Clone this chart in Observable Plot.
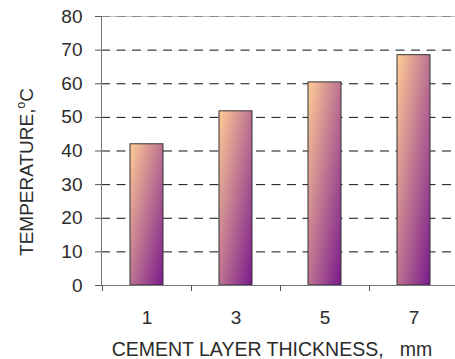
<!DOCTYPE html>
<html>
<head>
<meta charset="utf-8">
<script src="https://cdn.jsdelivr.net/npm/d3@7"></script>
<script src="https://cdn.jsdelivr.net/npm/@observablehq/plot@0.6"></script>
<style>
  html, body { margin: 0; padding: 0; background: #fff; }
  #chart svg { display: block; }
</style>
</head>
<body>
<div id="chart"></div>
<script>
// Cement layer thickness (mm) and the measured temperature (°C)
const thickness = ["1", "3", "5", "7"];
const temperature = [42, 51.8, 60.4, 68.5];
const yTicks = [0, 10, 20, 30, 40, 50, 60, 70, 80];

const xTitle = "CEMENT LAYER THICKNESS,\u00a0\u00a0 mm";
const yTitle = "TEMPERATURE,";
const yTitleSup = "o";
const yTitleUnit = "C";

const rows = thickness.map((t, i) => ({thickness: t, temperature: temperature[i]}));

const FONT = "'Liberation Sans', Arial, Helvetica, sans-serif";
const INK = "#2b2b2b";
const W = 455, H = 359;
const plotLeft = 101, plotTop = 16, plotBottom = 285;

const plot = Plot.plot({
  width: W,
  height: H,
  marginLeft: plotLeft,
  marginRight: 0,
  marginTop: plotTop,
  marginBottom: H - plotBottom,
  style: {fontFamily: FONT, fontSize: "19px", color: INK, background: "#fff", overflow: "visible"},
  x: {type: "band", domain: thickness, range: [plotLeft, 458], paddingInner: 0.63, paddingOuter: 0.315, label: null},
  y: {domain: [0, 80], label: null},
  marks: [
    Plot.gridY(yTicks.filter(v => v > 0 && v < 80), {stroke: "#111", strokeOpacity: 1, strokeDasharray: "9,6.5"}),
    Plot.ruleY([80], {stroke: "#c4c4c4"}),
    Plot.ruleY([80], {stroke: "#8a8a8a", strokeDasharray: "9,6.5"}),
    Plot.barY(rows, {x: "thickness", y: "temperature", fill: "url(#bar-fill)", stroke: "#333", strokeWidth: 1}),
    Plot.axisY({ticks: yTicks, tickSize: 6, tickPadding: 13, stroke: "#555", fill: INK, label: null}),
    Plot.axisX({tickSize: 0, tickPadding: 25, fill: INK, label: null}),
    Plot.frame({anchor: "left", stroke: "#777"}),
    Plot.frame({anchor: "bottom", stroke: "#777"})
  ]
});

const svg = d3.select(plot);

// Diagonal peach-to-violet fill used by every bar
const grad = svg.insert("defs", ":first-child")
  .append("linearGradient")
  .attr("id", "bar-fill")
  .attr("x1", 0).attr("y1", 0).attr("x2", 1).attr("y2", 1);
grad.append("stop").attr("offset", 0).attr("stop-color", "#ffcc96");
grad.append("stop").attr("offset", 1).attr("stop-color", "#7a1a8c");

// Category-boundary tick marks under the x axis
const sx = plot.scale("x");
const first = sx.apply(thickness[0]) - (sx.step - sx.bandwidth) / 2;
const ticksG = svg.append("g").attr("stroke", "#555");
for (let i = 0; i <= thickness.length; i++) {
  const bx = Math.round(first + i * sx.step) + 0.5;
  ticksG.append("line")
    .attr("x1", bx).attr("x2", bx)
    .attr("y1", plotBottom).attr("y2", plotBottom + 6);
}

// Axis titles
svg.append("text")
  .attr("x", 272).attr("y", 356)
  .attr("text-anchor", "middle")
  .attr("font-family", FONT).attr("font-size", 19.5).attr("fill", INK)
  .text(xTitle);

const yt = svg.append("text")
  .attr("transform", "translate(33,172) rotate(-90)")
  .attr("text-anchor", "middle")
  .attr("font-family", FONT).attr("font-size", 19).attr("fill", INK);
yt.append("tspan").text(yTitle);
yt.append("tspan").attr("font-size", 12).attr("dy", -8).text(yTitleSup);
yt.append("tspan").attr("dy", 8).text(yTitleUnit);

document.getElementById("chart").appendChild(plot);
</script>
</body>
</html>
